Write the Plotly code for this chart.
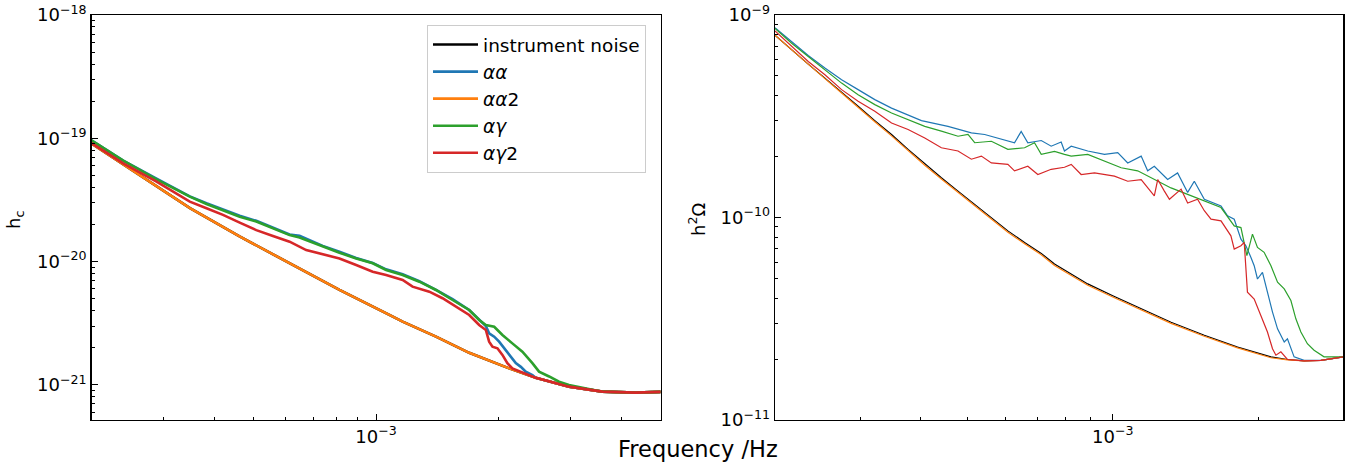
import math
import plotly.graph_objects as go

# ---------------- Left panel: characteristic strain h_c ----------------
f_noise_l = [2.0e-4, 2.39e-4, 2.89e-4, 3.49e-4, 4.62e-4, 6.13e-4, 8.13e-4, 1.078e-3, 1.162e-3,
             1.403e-3, 1.693e-3, 2.122e-3, 2.466e-3, 2.977e-3, 3.593e-3, 4.337e-3, 5.0e-3]
hc_noise = [9.05e-20, 6.15e-20, 4.05e-20, 2.71e-20, 1.60e-20, 9.69e-21, 5.89e-21, 3.69e-21, 3.26e-21,
            2.46e-21, 1.82e-21, 1.36e-21, 1.14e-21, 9.67e-22, 8.81e-22, 8.65e-22, 8.77e-22]
hc_aa2 = [9.05e-20, 6.15e-20, 4.05e-20, 2.71e-20, 1.60e-20, 9.69e-21, 5.89e-21, 3.69e-21, 3.26e-21,
          2.46e-21, 1.82e-21, 1.36e-21, 1.14e-21, 9.67e-22, 8.81e-22, 8.65e-22, 8.77e-22]

f_aa_l = [2.0e-4, 2.393e-4, 2.889e-4, 3.174e-4, 3.487e-4, 3.832e-4, 4.207e-4, 4.624e-4, 5.079e-4,
          5.580e-4, 6.131e-4, 6.486e-4, 7.396e-4, 8.128e-4, 8.933e-4, 9.81e-4, 1.058e-3, 1.162e-3,
          1.277e-3, 1.403e-3, 1.541e-3, 1.693e-3, 1.791e-3, 1.860e-3, 1.895e-3, 1.950e-3, 2.005e-3,
          2.082e-3, 2.142e-3, 2.203e-3, 2.267e-3, 2.331e-3, 2.420e-3, 2.466e-3, 2.977e-3, 3.593e-3,
          4.337e-3, 5.0e-3]
hc_aa = [9.6e-20, 6.6e-20, 4.7e-20, 3.96e-20, 3.38e-20, 2.97e-20, 2.66e-20, 2.35e-20, 2.14e-20,
         1.88e-20, 1.66e-20, 1.62e-20, 1.34e-20, 1.20e-20, 1.07e-20, 9.75e-21, 8.65e-21, 7.9e-21,
         6.95e-21, 5.9e-21, 4.95e-21, 4.05e-21, 3.36e-21, 3.0e-21, 2.62e-21, 2.46e-21, 2.24e-21,
         1.92e-21, 1.69e-21, 1.50e-21, 1.40e-21, 1.28e-21, 1.20e-21, 1.14e-21, 9.67e-22, 8.81e-22,
         8.65e-22, 8.77e-22]

f_ag_l = [2.0e-4, 2.393e-4, 2.889e-4, 3.174e-4, 3.487e-4, 3.832e-4, 4.207e-4, 4.624e-4, 5.079e-4,
          5.580e-4, 6.131e-4, 6.486e-4, 7.396e-4, 8.128e-4, 8.933e-4, 9.81e-4, 1.058e-3, 1.162e-3,
          1.277e-3, 1.403e-3, 1.541e-3, 1.693e-3, 1.791e-3, 1.860e-3, 1.950e-3, 2.043e-3, 2.161e-3,
          2.287e-3, 2.420e-3, 2.513e-3, 2.660e-3, 2.814e-3, 2.977e-3, 3.593e-3, 4.337e-3, 5.0e-3]
hc_ag = [9.6e-20, 6.58e-20, 4.65e-20, 3.93e-20, 3.36e-20, 2.93e-20, 2.62e-20, 2.31e-20, 2.11e-20,
         1.86e-20, 1.64e-20, 1.57e-20, 1.32e-20, 1.18e-20, 1.06e-20, 9.69e-21, 8.55e-21, 7.79e-21,
         6.87e-21, 5.88e-21, 4.88e-21, 4.05e-21, 3.36e-21, 3.06e-21, 2.96e-21, 2.54e-21, 2.17e-21,
         1.86e-21, 1.50e-21, 1.28e-21, 1.17e-21, 1.06e-21, 9.98e-22, 8.81e-22, 8.65e-22, 8.77e-22]

f_ag2_l = [2.0e-4, 2.393e-4, 2.889e-4, 3.487e-4, 3.832e-4, 4.207e-4, 4.624e-4, 5.079e-4, 5.580e-4,
           6.131e-4, 6.735e-4, 7.396e-4, 8.128e-4, 8.933e-4, 9.81e-4, 1.058e-3, 1.162e-3, 1.229e-3,
           1.351e-3, 1.456e-3, 1.571e-3, 1.693e-3, 1.791e-3, 1.860e-3, 1.895e-3, 1.931e-3, 1.986e-3,
           2.043e-3, 2.101e-3, 2.161e-3, 2.466e-3, 2.977e-3, 3.593e-3, 4.337e-3, 5.0e-3]
hc_ag2 = [9.15e-20, 6.27e-20, 4.45e-20, 3.06e-20, 2.71e-20, 2.39e-20, 2.07e-20, 1.80e-20, 1.61e-20,
          1.45e-20, 1.24e-20, 1.15e-20, 1.06e-20, 9.38e-21, 8.28e-21, 7.79e-21, 7.09e-21, 6.26e-21,
          5.70e-21, 5.04e-21, 4.31e-21, 3.69e-21, 3.06e-21, 2.79e-21, 2.24e-21, 2.04e-21, 1.98e-21,
          1.75e-21, 1.50e-21, 1.36e-21, 1.14e-21, 9.67e-22, 8.81e-22, 8.65e-22, 8.77e-22]

# ---------------- Right panel: energy density h^2 Omega ----------------
f_noise_r = [2.0e-4, 2.165e-4, 2.343e-4, 2.537e-4, 2.747e-4, 2.972e-4, 3.218e-4, 3.485e-4, 3.771e-4,
             4.083e-4, 4.419e-4, 4.784e-4, 5.180e-4, 5.608e-4, 6.067e-4, 6.570e-4, 7.113e-4, 7.577e-4,
             8.877e-4, 1.0e-3, 1.126e-3, 1.320e-3, 1.547e-3, 1.813e-3, 2.125e-3, 2.299e-3, 2.489e-3,
             2.696e-3, 3.0e-3]
om_noise = [7.95e-10, 6.73e-10, 5.72e-10, 4.88e-10, 4.17e-10, 3.54e-10, 3.01e-10, 2.57e-10, 2.17e-10,
            1.84e-10, 1.57e-10, 1.35e-10, 1.16e-10, 1.00e-10, 8.59e-11, 7.53e-11, 6.65e-11, 5.89e-11,
            4.70e-11, 4.11e-11, 3.61e-11, 3.04e-11, 2.62e-11, 2.29e-11, 2.05e-11, 1.99e-11, 1.96e-11,
            1.97e-11, 2.05e-11]
om_aa2 = [7.95e-10, 6.72e-10, 5.70e-10, 4.85e-10, 4.12e-10, 3.49e-10, 2.97e-10, 2.53e-10, 2.14e-10,
          1.81e-10, 1.55e-10, 1.33e-10, 1.14e-10, 9.85e-11, 8.46e-11, 7.42e-11, 6.55e-11, 5.80e-11,
          4.63e-11, 4.05e-11, 3.56e-11, 3.00e-11, 2.59e-11, 2.27e-11, 2.03e-11, 1.98e-11, 1.96e-11,
          1.97e-11, 2.05e-11]

f_aa_r = [2.0e-4, 2.165e-4, 2.343e-4, 2.537e-4, 2.747e-4, 2.972e-4, 3.218e-4, 3.485e-4, 3.771e-4,
          4.019e-4, 4.560e-4, 5.098e-4, 5.432e-4, 5.882e-4, 6.262e-4, 6.464e-4, 6.672e-4, 7.113e-4,
          7.458e-4, 7.821e-4, 7.945e-4, 8.204e-4, 8.877e-4, 9.613e-4, 1.024e-3, 1.074e-3, 1.145e-3,
          1.181e-3, 1.219e-3, 1.299e-3, 1.362e-3, 1.429e-3, 1.475e-3, 1.547e-3, 1.675e-3, 1.728e-3,
          1.784e-3, 1.842e-3, 1.886e-3, 1.932e-3, 1.962e-3, 1.993e-3, 2.041e-3, 2.090e-3, 2.141e-3,
          2.193e-3, 2.264e-3, 2.299e-3, 2.373e-3, 2.489e-3, 2.696e-3, 3.0e-3]
om_aa = [8.65e-10, 7.39e-10, 6.31e-10, 5.47e-10, 4.79e-10, 4.28e-10, 3.82e-10, 3.47e-10, 3.22e-10,
         3.01e-10, 2.82e-10, 2.62e-10, 2.57e-10, 2.45e-10, 2.34e-10, 2.66e-10, 2.34e-10, 2.40e-10,
         2.25e-10, 2.36e-10, 2.13e-10, 2.25e-10, 2.13e-10, 2.05e-10, 2.09e-10, 1.86e-10, 2.01e-10,
         1.70e-10, 1.79e-10, 1.54e-10, 1.66e-10, 1.33e-10, 1.51e-10, 1.23e-10, 1.14e-10, 1.02e-10,
         9.81e-11, 7.82e-11, 7.25e-11, 6.35e-11, 5.78e-11, 4.97e-11, 5.36e-11, 4.28e-11, 3.41e-11,
         2.82e-11, 2.43e-11, 2.52e-11, 2.05e-11, 1.97e-11, 1.97e-11, 2.05e-11]

f_ag_r = [2.0e-4, 2.165e-4, 2.343e-4, 2.537e-4, 2.747e-4, 2.972e-4, 3.218e-4, 3.485e-4, 3.771e-4,
          4.083e-4, 4.419e-4, 4.784e-4, 5.017e-4, 5.180e-4, 5.608e-4, 6.067e-4, 6.570e-4, 6.888e-4,
          7.113e-4, 7.577e-4, 7.945e-4, 8.204e-4, 8.877e-4, 9.613e-4, 1.041e-3, 1.126e-3, 1.219e-3,
          1.320e-3, 1.429e-3, 1.547e-3, 1.675e-3, 1.784e-3, 1.842e-3, 1.895e-3, 1.946e-3, 1.993e-3,
          2.057e-3, 2.125e-3, 2.193e-3, 2.264e-3, 2.337e-3, 2.393e-3, 2.451e-3, 2.528e-3, 2.610e-3,
          2.737e-3, 3.0e-3]
om_ag = [8.58e-10, 7.25e-10, 6.24e-10, 5.36e-10, 4.61e-10, 4.04e-10, 3.61e-10, 3.28e-10, 3.04e-10,
         2.82e-10, 2.67e-10, 2.52e-10, 2.57e-10, 2.34e-10, 2.38e-10, 2.17e-10, 2.21e-10, 2.34e-10,
         2.05e-10, 2.12e-10, 2.05e-10, 2.01e-10, 2.05e-10, 1.90e-10, 1.76e-10, 1.70e-10, 1.54e-10,
         1.40e-10, 1.30e-10, 1.21e-10, 1.12e-10, 9.09e-11, 8.92e-11, 6.48e-11, 8.28e-11, 7.12e-11,
         6.73e-11, 5.78e-11, 4.79e-11, 4.44e-11, 3.89e-11, 3.16e-11, 2.72e-11, 2.38e-11, 2.21e-11,
         2.05e-11, 2.05e-11]

f_ag2_r = [2.0e-4, 2.165e-4, 2.343e-4, 2.537e-4, 2.747e-4, 2.972e-4, 3.218e-4, 3.485e-4, 3.771e-4,
           4.083e-4, 4.419e-4, 4.784e-4, 5.098e-4, 5.347e-4, 5.608e-4, 6.067e-4, 6.262e-4, 6.672e-4,
           6.998e-4, 7.458e-4, 7.945e-4, 8.204e-4, 8.603e-4, 9.167e-4, 9.613e-4, 1.008e-3, 1.074e-3,
           1.145e-3, 1.219e-3, 1.239e-3, 1.279e-3, 1.310e-3, 1.385e-3, 1.429e-3, 1.498e-3, 1.547e-3,
           1.597e-3, 1.675e-3, 1.756e-3, 1.784e-3, 1.842e-3, 1.871e-3, 1.900e-3, 1.962e-3, 2.025e-3,
           2.090e-3, 2.141e-3, 2.176e-3, 2.228e-3, 2.299e-3, 2.489e-3, 2.696e-3, 3.0e-3]
om_ag2 = [8.35e-10, 6.99e-10, 5.89e-10, 5.07e-10, 4.28e-10, 3.75e-10, 3.35e-10, 2.93e-10, 2.72e-10,
          2.47e-10, 2.21e-10, 2.13e-10, 1.94e-10, 2.01e-10, 1.86e-10, 1.83e-10, 1.70e-10, 1.79e-10,
          1.63e-10, 1.73e-10, 1.77e-10, 1.83e-10, 1.63e-10, 1.66e-10, 1.63e-10, 1.60e-10, 1.51e-10,
          1.54e-10, 1.28e-10, 1.54e-10, 1.35e-10, 1.23e-10, 1.38e-10, 1.18e-10, 1.23e-10, 1.08e-10,
          9.81e-11, 9.62e-11, 8.12e-11, 6.98e-11, 7.25e-11, 7.53e-11, 4.28e-11, 3.96e-11, 3.28e-11,
          2.72e-11, 2.25e-11, 2.09e-11, 2.17e-11, 1.99e-11, 1.96e-11, 1.97e-11, 2.05e-11]

names = ["instrument noise", "<i>αα</i>", "<i>αα</i>2", "<i>αγ</i>", "<i>αγ</i>2"]
colors = ["#000000", "#1f77b4", "#ff7f0e", "#2ca02c", "#d62728"]

x_tick_vals = [1e-3]
x_tick_text = ["10<sup>−3</sup>"]
yl_tick_vals = [1e-21, 1e-20, 1e-19, 1e-18]
yl_tick_text = ["10<sup>−21</sup>", "10<sup>−20</sup>", "10<sup>−19</sup>", "10<sup>−18</sup>"]
yr_tick_vals = [1e-11, 1e-10, 1e-9]
yr_tick_text = ["10<sup>−11</sup>", "10<sup>−10</sup>", "10<sup>−9</sup>"]


def minor_vals(lo_exp, hi_exp):
    return [k * 10.0 ** e for e in range(lo_exp, hi_exp) for k in range(2, 10)]


W, H = 1348, 462
FONT = "DejaVu Sans"


def px(x):
    return x / W


def py(y):
    return 1 - y / H


fig = go.Figure()
left_sets = [(f_noise_l, hc_noise), (f_aa_l, hc_aa), (f_noise_l, hc_aa2), (f_ag_l, hc_ag), (f_ag2_l, hc_ag2)]
right_sets = [(f_noise_r, om_noise), (f_aa_r, om_aa), (f_noise_r, om_aa2), (f_ag_r, om_ag), (f_ag2_r, om_ag2)]

for (fx, fy), nm, c in zip(left_sets, names, colors):
    fig.add_trace(go.Scatter(x=fx, y=fy, mode="lines", name=nm, line=dict(color=c, width=2.6),
                             xaxis="x", yaxis="y", showlegend=True))
for (fx, fy), nm, c in zip(right_sets, names, colors):
    fig.add_trace(go.Scatter(x=fx, y=fy, mode="lines", name=nm, line=dict(color=c, width=1.2),
                             xaxis="x2", yaxis="y2", showlegend=False))

ydom = [py(420), py(15)]
axis_common = dict(type="log", showgrid=False, zeroline=False, showline=True, mirror=True,
                   linecolor="black", linewidth=1.3, ticks="inside", ticklen=6, tickwidth=1.1,
                   tickcolor="black", tickmode="array", automargin=False,
                   ticklabeloverflow="allow",
                   tickfont=dict(family=FONT, size=18, color="black"))
minor_common = dict(ticks="inside", ticklen=3, tickwidth=1, tickcolor="black", tickmode="array",
                    showgrid=False)
ann_font = dict(family=FONT, size=18, color="black")

fig.update_layout(
    template="none",
    width=W, height=H, margin=dict(l=0, r=0, t=0, b=0, pad=0), autosize=False,
    paper_bgcolor="white", plot_bgcolor="white",
    font=dict(family=FONT, color="black"),
    xaxis=dict(axis_common, domain=[px(91.5), px(660.7)], anchor="y",
               range=[math.log10(2e-4), math.log10(5e-3)],
               tickvals=x_tick_vals, ticktext=x_tick_text,
               minor=dict(minor_common, tickvals=minor_vals(-4, -2))),
    yaxis=dict(axis_common, domain=ydom, anchor="x",
               range=[-21.285, -18.0],
               tickvals=yl_tick_vals, ticktext=yl_tick_text,
               minor=dict(minor_common, tickvals=minor_vals(-22, -18))),
    xaxis2=dict(axis_common, domain=[px(775.0), px(1343.3)], anchor="y2",
                range=[math.log10(2e-4), math.log10(3e-3)],
                tickvals=x_tick_vals, ticktext=x_tick_text,
                minor=dict(minor_common, tickvals=minor_vals(-4, -2))),
    yaxis2=dict(axis_common, domain=ydom, anchor="x2",
                range=[-11.0, -9.0],
                tickvals=yr_tick_vals, ticktext=yr_tick_text,
                minor=dict(minor_common, tickvals=minor_vals(-11, -9))),
    legend=dict(x=px(427), y=py(25), xanchor="left", yanchor="top",
                bgcolor="white", bordercolor="#cccccc", borderwidth=1, itemwidth=45,
                font=dict(family=FONT, size=18.5, color="black")),
    annotations=[
        dict(text="h<sub>c</sub>", x=px(15), y=py(220), xref="paper", yref="paper",
             xanchor="center", yanchor="middle",
             showarrow=False, textangle=-90, font=ann_font),
        dict(text="h<sup>2</sup>Ω", x=px(697), y=py(220), xref="paper", yref="paper",
             xanchor="center", yanchor="middle",
             showarrow=False, textangle=-90, font=ann_font),
        dict(text="Frequency /Hz", x=px(698), y=py(449), xref="paper", yref="paper",
             xanchor="center", yanchor="middle",
             showarrow=False, font=dict(family=FONT, size=22.5, color="black")),
    ],
)

# remove the browser's default 8 px page margin so the figure sits at the window origin
fig.write_html("out.html",
               config={"displayModeBar": False, "staticPlot": True},
               post_script="document.body.style.margin='0';document.body.style.padding='0';")
